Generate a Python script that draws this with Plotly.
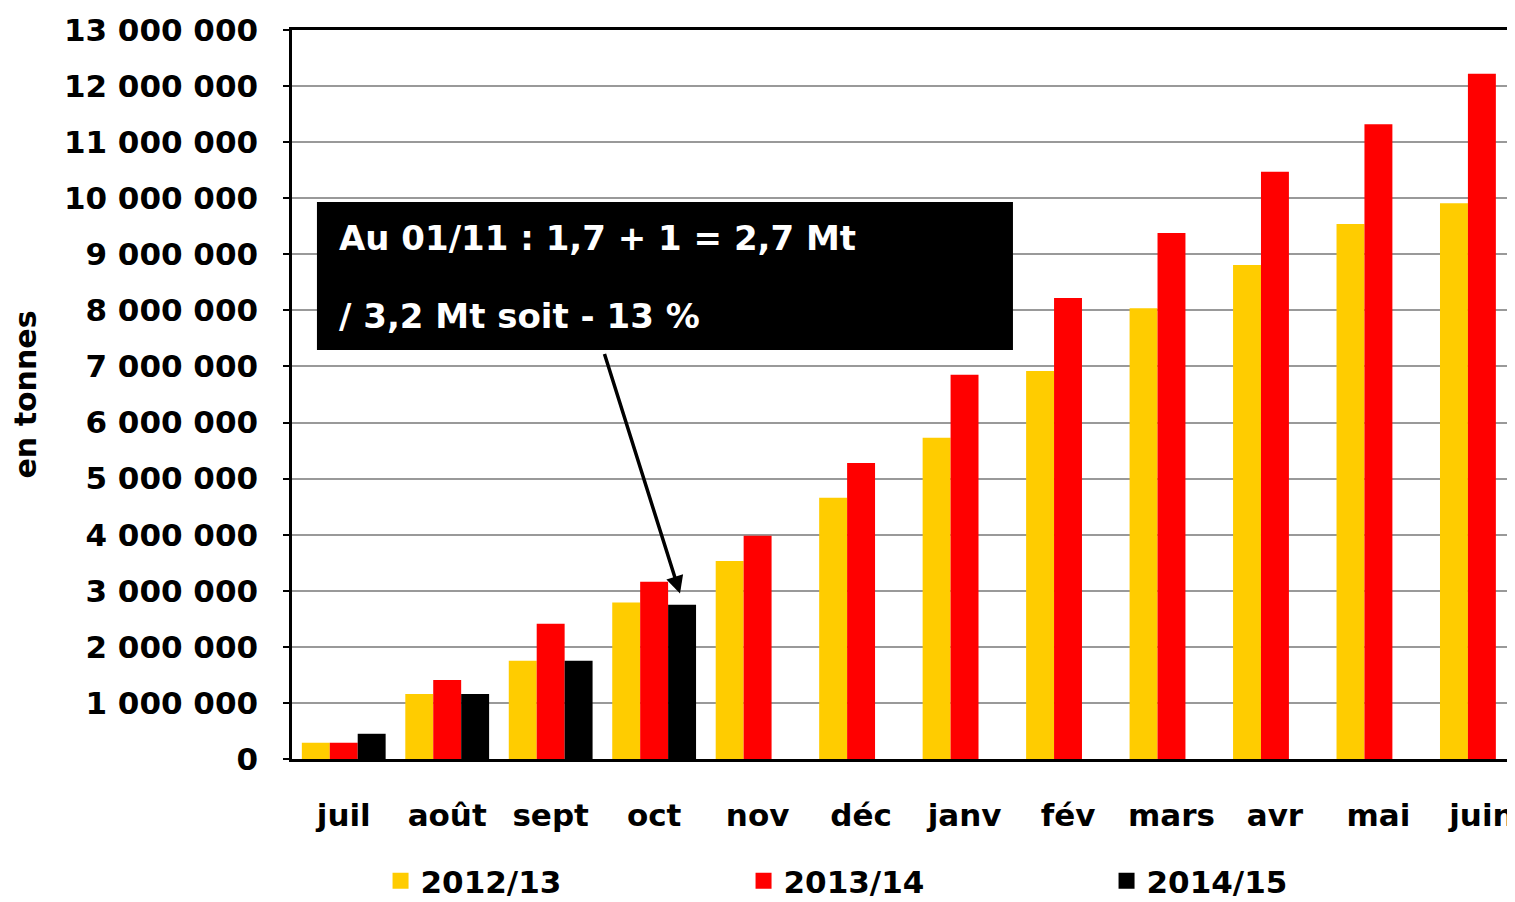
import plotly.graph_objects as go

MONTHS = ["juil", "août", "sept", "oct", "nov", "déc", "janv", "fév", "mars", "avr", "mai", "juin"]

SERIES_NAMES = ["2012/13", "2013/14", "2014/15"]
SERIES_COLORS = ["#FFCC00", "#FF0000", "#000000"]

# cumul en tonnes
S_2012_13 = [290000, 1160000, 1750000, 2790000, 3530000, 4660000,
             5730000, 6920000, 8040000, 8810000, 9540000, 9910000]
S_2013_14 = [290000, 1410000, 2410000, 3160000, 3980000, 5280000,
             6850000, 8220000, 9380000, 10470000, 11320000, 12220000]
S_2014_15 = [450000, 1160000, 1750000, 2750000, None, None,
             None, None, None, None, None, None]

Y_TICKS = list(range(0, 13000001, 1000000))

FONT = "DejaVu Sans"

fig = go.Figure()

for name, values, color in zip(SERIES_NAMES, [S_2012_13, S_2013_14, S_2014_15], SERIES_COLORS):
    fig.add_trace(go.Bar(x=MONTHS, y=values, name=name, marker_color=color,
                         marker_line_width=0, showlegend=False))
    # legend entry with a bigger square
    fig.add_trace(go.Scatter(x=[None], y=[None], mode="markers", name=name,
                             marker=dict(symbol="square", size=24, color=color)))

# the page body adds 8px around the figure, so the figure is 8px smaller
fig.update_layout(
    width=1507, height=894,
    margin=dict(l=284, r=0, t=22, b=143),
    plot_bgcolor="white", paper_bgcolor="white",
    barmode="group", bargap=0.19, bargroupgap=0,
    separators=", ",
    font=dict(family=FONT, size=31, color="black"),
    legend=dict(orientation="h", x=0.0724, xanchor="left",
                yref="container", y=0.0235, yanchor="middle",
                entrywidth=318, entrywidthmode="pixels", itemsizing="trace",
                font=dict(family=FONT, size=31, color="black", weight="bold")),
)

fig.update_xaxes(
    range=[-0.5, 11.32],
    showline=True, linecolor="black", linewidth=2.5, mirror=True,
    ticks="", showgrid=False,
    tickfont=dict(family=FONT, size=31, color="black", weight="bold"),
    ticklabelstandoff=27,
)

fig.update_yaxes(
    range=[0, 13000000], tickvals=Y_TICKS, tickformat=",d",
    showline=True, linecolor="black", linewidth=2.5,
    ticks="outside", ticklen=6, tickcolor="black", tickwidth=2,
    showgrid=True, gridcolor="#999999", gridwidth=2,
    zeroline=False,
    tickfont=dict(family=FONT, size=31, color="black", weight="bold"),
    ticklabelstandoff=19,
    title=dict(text="en tonnes", standoff=20,
               font=dict(family=FONT, size=30, color="black", weight="bold")),
)

# encadré noir
fig.add_shape(type="rect", xref="paper", yref="paper",
              x0=0.0204, x1=0.5895, y0=0.561, y1=0.764,
              fillcolor="black", line_width=0, layer="above")
fig.add_annotation(xref="paper", yref="paper", x=0.0368, y=0.7147,
                   xanchor="left", yanchor="middle", showarrow=False,
                   text="Au 01/11 : 1,7 + 1 = 2,7 Mt",
                   font=dict(family=FONT, size=34, color="white", weight="bold"))
fig.add_annotation(xref="paper", yref="paper", x=0.0368, y=0.6077,
                   xanchor="left", yanchor="middle", showarrow=False,
                   text="/ 3,2 Mt soit - 13 %",
                   font=dict(family=FONT, size=34, color="white", weight="bold"))

# flèche vers la barre d'octobre 2014/15
fig.add_annotation(x=3.25, y=2950000, xref="x", yref="y", text="",
                   showarrow=True, arrowhead=2, arrowsize=1, arrowwidth=3.5,
                   arrowcolor="black", ax=-76, ay=-241)

fig.write_html("out.html")
